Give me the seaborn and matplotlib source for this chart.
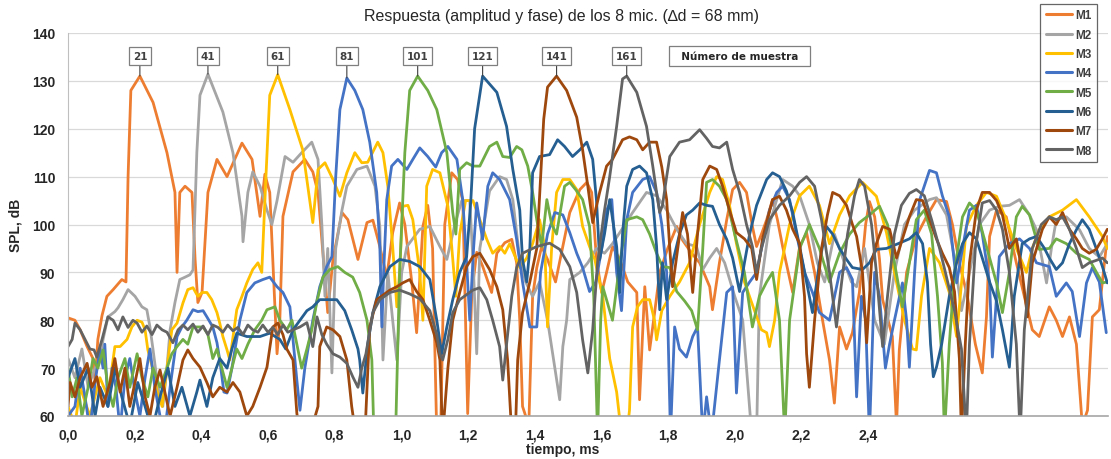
import matplotlib
matplotlib.use('Agg')
import matplotlib.pyplot as plt
import pandas as pd
import seaborn as sns

# series names, colours (Excel palette) and sample-number labels
mics = ['M1', 'M2', 'M3', 'M4', 'M5', 'M6', 'M7', 'M8']
colors = ['#ED7D31', '#A5A5A5', '#FFC000', '#4472C4',
          '#70AD47', '#255E91', '#9E480E', '#636363']
sample_labels = ['21', '41', '61', '81', '101', '121', '141', '161']
x_ticks = [0.0, 0.2, 0.4, 0.6, 0.8, 1.0, 1.2, 1.4, 1.6, 1.8, 2.0, 2.2, 2.4, 2.6, 2.8, 3.0]
x_ticklabels = ['0,0', '0,2', '0,4', '0,6', '0,8', '1,0', '1,2', '1,4', '1,6',
                '1,8', '2,0', '2,2', '2,4', '', '', '']
y_ticks = [60, 70, 80, 90, 100, 110, 120, 130, 140]
fs = 96.0  # samples per ms (96 kHz)

# values: position in samples, SPL in dB
n_m1 = [0.0, 2.0, 3.5, 5.5, 7.2, 7.8, 8.6, 9.8, 11.2, 13.0, 15.5, 16.7, 17.3, 18.1,
        20.7, 24.5, 28.5, 30.8, 31.4, 32.2, 33.7, 35.7, 36.6, 37.4, 38.6, 40.3, 42.9, 45.8,
        50.1, 53.0, 55.3, 56.7, 58.1, 60.2, 61.0, 61.9, 64.8, 68.2, 70.5, 72.0, 74.8, 76.3,
        78.9, 80.6, 83.5, 86.1, 87.8, 89.8, 91.8, 93.5, 95.5, 97.0, 99.0, 100.4, 102.2, 103.6,
        105.0, 106.2, 107.3, 108.5, 110.5, 112.2, 113.7, 115.1, 116.3, 117.7, 119.4, 122.0, 123.5, 125.8,
        127.8, 129.2, 130.1, 130.9, 132.7, 133.8, 135.0, 136.4, 138.1, 140.4, 142.5, 144.5, 147.4, 149.4,
        150.8, 152.2, 153.7, 155.1, 156.8, 158.9, 161.2, 163.8, 164.6, 166.1, 167.5, 168.9, 170.4, 172.7,
        175.3, 177.0, 179.6, 181.9, 184.8, 185.6, 187.6, 189.7, 191.4, 193.4, 195.4, 197.1, 198.3, 199.7,
        201.2, 202.9, 204.3, 205.8, 208.7, 210.7, 212.7, 215.0, 217.3, 219.3, 220.7, 222.2, 224.2, 225.9,
        227.9, 229.7, 230.8, 232.3, 233.7, 234.6, 237.4, 238.6, 239.4, 241.5, 244.3, 247.2, 250.1, 253.0,
        254.7, 256.7, 259.0, 261.3, 263.3, 264.5, 265.4, 267.4, 270.2, 273.1, 275.4, 277.7, 279.7, 282.6,
        284.6, 286.4, 288.4, 290.4, 292.1, 293.6, 295.0, 297.0, 299.3]
spl_m1 = [80.5, 80, 78, 74.5, 72, 67, 76, 81, 85, 86.4, 88.5, 88, 110, 128,
          131, 125.5, 115, 106.7, 90, 106.7, 108, 106.7, 92.7, 83.7, 85.8, 106.7, 113.6, 110,
          117, 113.6, 101.7, 110.5, 106.7, 73, 80, 101.7, 111, 113.6, 111, 106.7, 81.6, 92.7,
          102.5, 101, 92.7, 100.4, 100.9, 95.4, 89, 98.3, 104.5, 100, 88, 77.4, 99.6, 104,
          95, 56, 56, 100, 110.8, 109.4, 105, 60.5, 85.8, 94.2, 91.3, 85.8, 94, 96.2,
          96.9, 92, 80, 62, 58, 85, 91, 95.4, 92.7, 88, 95.4, 102.5, 107.3, 108.8,
          106.7, 92.7, 85.8, 90, 95.4, 92.7, 88, 85.8, 63.4, 87, 73.8, 81.4, 90, 95,
          99.6, 96.7, 94, 92, 87, 82.2, 92, 101, 107.3, 108.8, 106.7, 99.6, 95.4, 98,
          101, 105.2, 101, 95.4, 85.8, 95.4, 98.3, 90, 80, 71.7, 62.7, 78.6, 74, 77.4,
          85.8, 100, 104.8, 101.6, 92.7, 84.3, 76.6, 58, 73.8, 90, 97.5, 101.6, 105.2, 104.8,
          100, 92, 85, 75, 69, 80.7, 97.5, 103, 101.6, 92, 85, 78, 76.6, 82.8,
          80, 76.6, 80.7, 75, 58, 61.2, 80.7, 82.2, 97.5]

n_m2 = [0.0, 2.0, 4.0, 5.8, 7.8, 9.2, 10.1, 11.5, 13.5, 14.4, 15.8, 17.3, 19.3, 21.3,
        22.7, 23.6, 24.5, 25.9, 27.3, 28.5, 29.4, 30.8, 32.2, 33.7, 35.1, 36.0, 37.1, 38.0,
        40.3, 44.6, 47.5, 50.1, 50.4, 51.8, 53.2, 55.3, 57.3, 58.7, 60.2, 62.5, 64.8, 67.3,
        70.2, 72.0, 73.1, 74.0, 74.8, 76.0, 77.1, 78.9, 80.3, 83.2, 86.1, 88.4, 89.8, 90.7,
        92.1, 93.5, 94.7, 96.1, 97.6, 101.3, 104.2, 107.1, 109.1, 111.4, 113.4, 115.7, 116.8, 117.7,
        118.6, 121.4, 124.3, 126.3, 128.1, 130.1, 131.8, 133.8, 135.8, 138.1, 140.2, 141.6, 142.5, 143.6,
        144.5, 147.4, 149.7, 152.2, 154.5, 156.8, 158.9, 162.6, 166.6, 169.5, 172.4, 175.3, 178.1, 181.0,
        182.8, 184.8, 186.8, 189.1, 192.0, 194.3, 195.4, 196.9, 198.3, 199.1, 202.0, 205.8, 208.7, 210.7,
        213.5, 215.8, 217.9, 220.7, 223.6, 225.6, 227.1, 229.4, 232.3, 235.1, 238.0, 240.9, 243.8, 248.1,
        250.1, 253.0, 255.3, 257.3, 259.6, 262.5, 265.4, 268.2, 271.1, 274.0, 276.9, 278.9, 281.8, 283.2,
        284.6, 287.5, 291.3, 294.1, 297.0, 299.3]
spl_m2 = [72, 68, 74, 66, 70, 72, 76, 80.7, 81.8, 82.6, 84.3, 86.4, 85, 82.8,
          82.2, 78.6, 73.8, 66, 62, 70, 78, 83.7, 88.5, 89, 89.5, 90.5, 115, 127,
          131.4, 123.5, 115, 101.7, 96.4, 106.7, 111, 108, 103, 100, 105, 114.2, 113, 115,
          117.2, 113.6, 100, 85, 95, 69, 95, 103, 108, 111.5, 112.2, 108, 99.6, 71.7,
          90, 80, 71.7, 90, 95.4, 99, 99.6, 95.4, 92.7, 100, 105, 105, 90, 73,
          95, 107, 110, 109.4, 105.2, 92.7, 88, 85, 88, 80, 70, 63.4, 74.5, 80,
          88.5, 90, 92, 95, 94, 96, 98.3, 102.5, 106.7, 106, 103, 99, 96, 95.4,
          90.6, 93, 95, 92, 85, 80, 70, 56, 56, 85, 100, 109.4, 108, 106,
          100, 92, 88, 98, 92, 88, 87, 95, 80, 75, 90, 100, 103, 105.2,
          105.6, 102, 93, 82, 90, 100, 103, 103.8, 104, 105.2, 102, 98.9, 87.8, 95,
          101, 101.6, 98.9, 95, 93.2, 96]

n_m3 = [0.0, 2.0, 3.5, 6.3, 9.2, 11.5, 13.0, 13.5, 15.0, 17.0, 18.4, 19.9, 21.3, 22.2,
        23.0, 24.5, 25.6, 27.1, 28.5, 29.9, 31.4, 33.1, 34.5, 36.0, 37.4, 38.6, 40.0, 41.4,
        42.9, 43.7, 44.6, 45.8, 46.6, 48.6, 50.1, 51.5, 53.2, 54.7, 55.8, 57.0, 58.1, 60.4,
        63.9, 67.6, 69.6, 70.5, 72.0, 74.0, 76.3, 78.3, 80.3, 82.6, 84.6, 86.3, 89.2, 90.7,
        92.1, 93.5, 94.7, 95.5, 96.4, 97.9, 99.3, 101.3, 102.2, 103.3, 105.0, 107.1, 109.4, 110.5,
        111.7, 112.8, 114.5, 116.6, 118.6, 120.6, 122.3, 124.3, 125.8, 127.2, 130.1, 132.1, 133.8, 135.8,
        137.3, 138.1, 139.3, 140.7, 142.5, 144.5, 146.5, 148.2, 150.2, 151.7, 154.0, 156.0, 158.0, 159.4,
        160.9, 161.7, 162.6, 164.0, 165.5, 167.5, 168.9, 169.5, 171.0, 173.3, 176.1, 179.0, 181.9, 184.8,
        186.8, 188.5, 190.5, 192.5, 194.8, 197.7, 199.7, 201.2, 202.0, 203.5, 204.9, 207.8, 210.7, 213.5,
        216.4, 219.3, 222.2, 225.1, 228.8, 232.8, 235.7, 238.0, 240.9, 243.2, 244.3, 245.8, 248.1, 251.0,
        253.8, 255.9, 257.6, 258.7, 261.6, 264.5, 267.4, 270.2, 273.1, 276.0, 277.7, 279.7, 282.6, 286.4,
        290.4, 294.1, 297.9, 299.3]
spl_m3 = [62, 58, 66, 60, 68, 64, 72, 74.5, 74.5, 76, 78.6, 80, 79.6, 78,
          73.8, 69.6, 65.4, 62, 70, 78, 79.4, 83.6, 86.4, 86.8, 85, 85.8, 85.8, 84.3,
          81.6, 79.4, 76.6, 73.8, 71.7, 82.2, 85, 87.8, 90.6, 92, 90, 110, 127, 131.3,
          124, 115.6, 105.2, 100.4, 111.5, 112.9, 109.4, 105.9, 110.8, 115, 112.9, 113, 117.2, 115,
          108, 95.4, 82.8, 90, 103.8, 104, 101, 90, 80, 108, 111.5, 110.8, 103.8, 95.4,
          85, 98, 105, 105, 101, 96.9, 94, 95.4, 94, 96, 91, 93, 96, 101,
          95.4, 78.6, 95.4, 106.7, 109.4, 109.4, 107.3, 99.6, 95.4, 92.7, 85, 72, 65, 56,
          56, 61.2, 78.6, 82.8, 84.3, 84.3, 80, 75.9, 82, 85, 88, 92, 100, 106.7,
          110, 109.4, 104, 96, 88, 82, 78, 77.4, 74.5, 80, 90, 100, 106, 108,
          104, 96, 102, 106, 108.8, 105.9, 98.3, 90, 80, 74, 73.8, 85, 95, 92,
          85.8, 76.6, 90, 99.6, 104, 106.7, 105.9, 101, 95, 90, 95, 98.9, 101.6, 103,
          105.2, 101.6, 97.5, 95]

n_m4 = [0.0, 2.0, 3.5, 4.9, 6.3, 7.8, 9.2, 10.1, 10.6, 11.5, 12.7, 13.8, 15.0, 16.4,
        17.8, 19.3, 20.7, 22.2, 23.6, 25.0, 26.5, 27.9, 29.4, 31.4, 32.8, 34.2, 36.0, 37.4,
        38.9, 40.0, 41.7, 42.9, 43.7, 44.9, 45.8, 47.2, 49.5, 51.5, 53.8, 56.1, 58.1, 60.2,
        61.9, 63.9, 65.9, 66.8, 68.2, 70.5, 72.5, 74.5, 76.0, 77.1, 78.3, 80.3, 82.6, 84.9,
        86.9, 88.9, 89.8, 90.4, 90.9, 91.8, 93.2, 95.0, 97.6, 99.3, 101.3, 103.6, 105.9, 107.6,
        109.4, 112.0, 113.7, 114.8, 115.7, 116.8, 117.7, 119.4, 120.9, 122.3, 124.3, 127.2, 129.2, 130.9,
        133.0, 135.0, 136.1, 138.1, 140.2, 142.5, 144.5, 146.5, 148.2, 150.2, 152.0, 153.7, 155.1, 156.6,
        158.0, 159.4, 160.9, 162.6, 165.5, 167.5, 169.5, 171.0, 172.4, 173.5, 174.7, 176.1, 178.1, 179.9,
        181.3, 182.8, 183.9, 185.3, 187.6, 189.7, 191.4, 192.5, 194.3, 196.3, 198.3, 200.0, 202.0, 204.1,
        205.8, 207.8, 209.8, 212.1, 214.4, 216.4, 219.3, 222.2, 224.2, 225.9, 227.1, 228.5, 229.7, 230.8,
        232.3, 233.7, 235.4, 236.6, 238.0, 240.3, 241.5, 242.3, 243.8, 245.2, 248.1, 250.1, 251.8, 253.8,
        255.9, 257.6, 259.6, 261.6, 263.3, 265.4, 266.2, 268.2, 271.1, 274.0, 276.9, 278.9, 282.6, 284.6,
        287.5, 289.2, 291.3, 293.3, 295.0, 297.0, 299.0]
spl_m4 = [60, 62, 70, 64, 57, 67, 74, 70, 75, 62, 70, 66, 57, 68,
          72, 65, 60, 68, 74, 66, 60, 57, 66, 76.6, 78.6, 80, 82.2, 81.8,
          82, 80.7, 78.6, 75.3, 71.7, 65, 64.8, 70, 80, 85.8, 87.8, 88.5, 89, 87,
          85.8, 82.8, 67.5, 61.2, 70, 80, 87, 91.2, 93.3, 110, 124, 130.6, 128, 124,
          117.2, 106.7, 95.4, 78.6, 90, 105.2, 112.2, 113.6, 111.5, 113.6, 116, 114.2, 112, 115,
          116.3, 113.6, 105, 92, 80, 95, 104.5, 96.9, 108, 110.8, 109.4, 105.2, 96.9, 88,
          78.6, 78.6, 90, 98, 102.5, 102, 98.3, 94, 91, 86, 88, 95, 103, 105.2,
          90, 82, 101, 106.7, 109.4, 110, 106.7, 100, 90, 56, 78.6, 74, 72.3, 76.6,
          78.6, 56, 64, 56, 71.7, 85.8, 87, 64.8, 85.8, 88, 90, 96, 103, 106.7,
          108, 105.2, 98, 90, 85.8, 81.6, 80, 90, 91, 88.5, 64, 85, 80, 56,
          90, 85, 70, 75, 80, 87.8, 80, 70.2, 90, 105, 111.3, 110.8, 106, 101.6,
          87.8, 95, 103, 104, 98, 87.8, 72.3, 93.3, 96, 97, 95, 92, 91.2, 85,
          87.8, 86, 76.6, 87.8, 91, 88, 77.4]

n_m5 = [0.0, 1.2, 2.6, 4.0, 5.8, 7.2, 8.6, 10.1, 11.5, 13.0, 14.4, 16.4, 17.8, 19.9,
        21.3, 23.0, 24.5, 26.5, 28.5, 29.9, 31.4, 33.1, 34.5, 36.0, 38.9, 40.3, 41.7, 42.9,
        44.3, 45.8, 47.2, 48.6, 50.1, 51.8, 53.8, 55.8, 57.3, 59.6, 61.0, 63.0, 64.5, 65.9,
        67.3, 68.8, 70.2, 71.7, 73.4, 75.4, 77.7, 79.7, 82.0, 84.0, 86.1, 87.5, 88.1, 91.2,
        94.4, 95.5, 97.0, 98.4, 100.7, 103.6, 106.2, 109.1, 110.8, 111.7, 112.8, 114.8, 116.6, 118.6,
        121.4, 123.5, 125.2, 127.2, 129.2, 130.7, 132.4, 133.8, 135.0, 136.4, 137.9, 139.3, 140.7, 143.0,
        144.5, 146.5, 148.2, 150.2, 151.4, 152.5, 153.4, 154.0, 156.0, 156.8, 158.9, 160.9, 163.8, 165.5,
        167.5, 169.5, 171.2, 173.3, 175.3, 177.6, 179.6, 181.3, 182.8, 183.9, 185.6, 187.6, 189.7, 192.0,
        194.8, 197.1, 199.1, 201.2, 202.9, 204.9, 206.4, 207.8, 210.7, 213.5, 216.4, 219.3, 222.2, 225.1,
        227.9, 230.8, 233.7, 236.0, 238.0, 240.3, 242.3, 244.3, 246.6, 248.7, 250.4, 251.8, 252.4, 253.8,
        255.3, 257.6, 259.6, 261.6, 263.9, 267.4, 269.1, 271.1, 273.1, 274.8, 276.9, 279.7, 282.6, 284.6,
        287.5, 290.4, 294.1, 297.9, 299.3]
spl_m5 = [70, 64, 68, 60, 66, 72, 70, 73.8, 66, 62, 68, 72, 66, 73,
          68, 64, 70, 66, 70, 73, 74.5, 76, 75, 78.6, 78.6, 77, 72, 74,
          70, 66, 70, 74, 72, 75, 78, 80, 82.2, 82.8, 80, 78, 80, 75,
          70, 74, 78, 84, 89, 90.6, 91.2, 90, 89, 85.8, 80, 71.7, 56, 56,
          58, 90, 115, 128, 131, 128, 124, 115, 102.5, 98, 111.5, 112.9, 112.2, 112.2,
          116.3, 117.2, 114.2, 114, 116.3, 115.6, 112.2, 106.7, 101, 95.4, 105.2, 100, 98, 108,
          108.8, 107, 105.2, 99.6, 85, 56, 80, 87, 82, 80, 92, 101, 101.6, 101,
          98, 94, 91.2, 91, 86, 84, 82, 78, 95, 108.8, 109.4, 108, 105.2, 98,
          90, 78.6, 85, 88, 90, 80, 56, 80, 95, 100, 95, 88, 94, 98,
          100.4, 102, 103.8, 100, 92, 82.8, 92, 101, 103, 98, 85, 71.1, 56, 75,
          90, 101.6, 104.5, 103, 97, 87.8, 81.6, 90, 101.6, 103.8, 102, 94.8, 95, 97,
          96, 94, 92.7, 87.8, 88]

n_m6 = [0.0, 2.0, 3.5, 5.8, 7.8, 9.2, 11.5, 13.5, 15.5, 17.8, 20.1, 22.2, 24.2, 26.5,
        28.8, 30.8, 32.8, 35.1, 37.1, 38.0, 40.0, 41.7, 43.7, 45.8, 47.2, 48.6, 51.5, 55.3,
        58.1, 61.0, 62.7, 64.8, 66.8, 68.8, 70.5, 72.5, 74.5, 77.4, 79.7, 81.7, 83.5, 84.0,
        84.9, 86.3, 87.8, 89.8, 92.7, 95.5, 98.4, 101.3, 104.2, 106.2, 107.6, 109.1, 110.8, 112.8,
        114.8, 116.0, 117.1, 119.4, 123.5, 126.3, 128.1, 130.1, 130.9, 132.1, 133.0, 133.8, 135.8, 138.7,
        141.0, 143.0, 145.3, 147.4, 149.4, 151.1, 152.2, 153.1, 154.5, 156.0, 158.0, 158.9, 159.7, 160.9,
        162.6, 164.6, 166.6, 168.4, 169.5, 170.4, 171.2, 172.4, 174.1, 176.1, 178.1, 179.9, 181.9, 183.9,
        185.6, 187.6, 189.7, 191.4, 193.4, 194.8, 196.3, 198.3, 201.2, 202.9, 204.9, 206.9, 208.7, 210.7,
        212.7, 214.4, 216.4, 218.4, 220.2, 222.2, 224.2, 225.9, 228.8, 230.8, 232.8, 235.7, 239.4, 242.3,
        244.3, 246.1, 247.5, 248.4, 249.2, 250.1, 251.6, 253.8, 255.9, 257.6, 259.6, 261.6, 263.3, 265.4,
        267.4, 269.1, 271.1, 272.5, 274.8, 276.9, 278.9, 281.2, 282.6, 284.6, 286.4, 288.4, 290.4, 292.1,
        294.1, 296.1, 297.9, 299.3]
spl_m6 = [68, 72, 66, 70, 60, 66, 62, 70, 64, 58, 67, 62, 57, 64,
          70, 62, 66, 60, 65, 67.5, 62, 68, 72, 70, 74, 77.3, 76.6, 76.6,
          77.3, 76, 74, 78, 80, 82, 82.8, 84.3, 84.3, 84.3, 82, 78, 74, 71.7,
          64.8, 75, 81.6, 87, 91.2, 92.7, 92.3, 91.2, 88.5, 80, 73, 78.6, 84.3, 90,
          93.3, 105, 120, 131, 127.6, 120.5, 111.5, 103, 92.7, 88, 95, 110.8, 114.2, 114.6,
          117.7, 116.3, 114.2, 115.6, 117.2, 113.6, 105, 92.7, 98, 105.2, 95.4, 85.8, 98, 108,
          111.5, 112.2, 110.8, 105.2, 95.4, 82.2, 92, 84.3, 92, 98, 102, 103, 104.5, 104,
          103.8, 100, 96.9, 93, 86, 92, 98, 104, 109.4, 110.8, 110, 107, 102.5, 95.4,
          88, 81.6, 92, 99.6, 98, 95, 92.7, 91, 90.6, 92, 94.8, 95, 96.1, 97,
          98.3, 96, 88, 75, 68.2, 70.2, 75, 85, 92, 96, 98.3, 97, 93, 88,
          84, 78, 70.2, 85, 96, 97, 97.5, 95, 93, 90.6, 92, 96, 98.9, 101,
          99, 95, 91.2, 87.8]

n_m7 = [0.0, 0.6, 2.0, 3.5, 5.5, 6.9, 8.3, 10.1, 12.1, 13.5, 15.0, 16.4, 17.8, 19.3,
        20.7, 22.2, 23.6, 25.0, 26.5, 27.9, 29.4, 31.4, 33.1, 34.5, 36.0, 38.0, 40.0, 41.7,
        43.7, 45.8, 47.5, 49.5, 51.5, 53.2, 55.3, 57.3, 59.0, 60.4, 61.9, 63.0, 64.8, 65.9,
        66.8, 69.6, 72.0, 72.5, 74.5, 76.3, 78.3, 80.3, 81.7, 82.9, 85.5, 86.9, 88.9, 92.7,
        94.7, 96.4, 98.4, 100.4, 102.2, 104.2, 106.2, 107.1, 107.9, 109.4, 110.8, 112.8, 114.8, 116.6,
        118.6, 121.4, 123.5, 125.2, 126.6, 127.8, 128.9, 129.5, 130.9, 133.0, 135.0, 136.1, 137.0, 138.1,
        140.7, 143.6, 146.5, 148.2, 149.7, 151.1, 153.1, 155.1, 156.8, 159.7, 161.7, 163.8, 165.5, 167.5,
        169.5, 171.0, 172.4, 173.3, 174.1, 175.6, 177.0, 178.4, 179.9, 181.3, 182.8, 184.8, 186.8, 188.5,
        190.5, 192.5, 194.8, 196.9, 198.3, 200.0, 202.9, 204.9, 206.9, 208.7, 210.7, 212.1, 212.7, 213.5,
        215.0, 217.0, 218.7, 220.2, 222.2, 224.2, 225.9, 227.1, 228.8, 230.0, 231.4, 232.8, 234.6, 236.6,
        238.6, 240.3, 242.3, 244.3, 246.1, 248.1, 250.1, 251.8, 253.8, 255.3, 256.7, 257.3, 258.4, 259.6,
        261.6, 263.3, 265.4, 267.4, 269.1, 271.1, 273.1, 274.8, 276.3, 277.7, 280.6, 282.6, 284.6, 286.4,
        288.4, 290.4, 292.1, 294.1, 296.1, 297.9, 299.3]
spl_m7 = [62, 67, 64, 68, 71, 66, 68.2, 62, 67, 72, 65, 70, 62, 67,
          72, 64, 60, 66, 69.6, 65, 60, 66, 71.7, 73.8, 72, 70.2, 67, 64,
          66, 65, 67, 65, 60, 62, 66, 70.2, 78.6, 79.4, 77, 74, 71.7, 60.6,
          56, 56, 62, 74.5, 78.6, 78, 76.6, 71.7, 62, 56, 56, 78.6, 84.3, 86.3,
          87, 87.8, 88.5, 86, 84.3, 80, 75.3, 71.7, 56, 70, 80, 85.8, 91.2, 93.3,
          94, 90.6, 87, 82.2, 71.7, 56, 58, 71.7, 81.6, 88, 95, 110, 122, 128.7,
          131, 128, 122.4, 115.6, 108, 100.4, 106.7, 112.2, 113.6, 117.7, 118.3, 117.7, 115.6, 117.2,
          117.2, 112, 105.2, 95, 87, 95, 102.5, 98, 85.8, 98, 109.4, 112.2, 111.5, 108,
          103, 98.3, 97, 95, 88.5, 97, 105.2, 105.9, 103, 99, 96, 85, 73, 66,
          80, 95, 102, 106.7, 106, 104, 100, 97.5, 90, 75.3, 92, 96, 99.6, 99,
          93, 97, 101.6, 105.2, 105, 101, 97, 94, 91, 86, 72, 56, 75, 92,
          103, 106.7, 106.7, 105, 102, 95, 97, 90, 80.7, 92, 99, 101.6, 100, 102.5,
          99, 97, 95, 94, 94.8, 97, 99]

n_m8 = [0.0, 1.2, 2.0, 3.5, 4.9, 6.3, 7.5, 8.3, 9.8, 11.5, 13.0, 14.4, 15.8, 17.3,
        18.7, 19.9, 21.3, 22.7, 24.2, 25.6, 27.1, 28.5, 30.2, 31.7, 33.1, 34.5, 36.0, 37.4,
        38.9, 40.3, 41.7, 43.2, 44.6, 46.0, 47.5, 48.9, 50.4, 51.8, 53.2, 54.7, 56.1, 57.6,
        59.0, 60.4, 61.9, 63.3, 64.8, 66.8, 68.8, 70.5, 71.7, 73.1, 74.5, 76.3, 78.3, 80.3,
        82.0, 83.5, 84.6, 85.8, 87.8, 89.8, 92.7, 95.5, 98.4, 101.3, 104.2, 106.2, 107.1, 107.9,
        109.4, 110.8, 112.8, 116.6, 118.6, 120.6, 122.3, 124.3, 125.2, 126.3, 127.8, 129.2, 130.9, 135.0,
        138.7, 141.6, 144.5, 146.5, 148.2, 149.7, 151.1, 152.5, 154.3, 156.0, 158.0, 159.7, 160.9, 163.8,
        166.6, 168.4, 169.5, 170.4, 171.2, 172.4, 173.3, 176.1, 179.0, 181.9, 183.9, 185.6, 187.6, 189.7,
        191.4, 193.4, 195.4, 197.1, 198.3, 199.7, 202.0, 204.9, 207.8, 210.7, 212.7, 215.0, 217.0, 219.3,
        221.3, 222.8, 224.5, 226.5, 227.9, 229.4, 231.4, 232.8, 234.6, 236.0, 238.0, 240.0, 242.3, 244.3,
        246.6, 248.7, 251.0, 253.0, 255.3, 257.3, 258.7, 259.6, 261.3, 263.3, 265.4, 267.4, 269.1, 271.1,
        273.1, 274.2, 275.4, 277.7, 280.3, 282.6, 284.6, 286.4, 288.4, 290.4, 292.1, 294.1, 296.1, 297.9,
        299.3]
spl_m8 = [74.5, 76, 79.4, 78, 76, 74, 73.8, 72.3, 76, 80.7, 80, 78, 80.7, 78.5,
          80, 79.4, 77.5, 78.8, 77, 79, 78, 77.5, 75.3, 78, 79, 78, 79.2, 77.5,
          78.8, 77, 79, 78.5, 77.5, 79, 77.8, 78.5, 77, 79, 78, 77.5, 79, 77.5,
          78.5, 77, 79, 77.5, 78, 78.6, 79.5, 74.5, 80.7, 77, 75, 73, 72.3, 71,
          68.2, 66, 70, 73, 81.6, 84.3, 85.8, 86.3, 85.5, 84.5, 82, 77, 73, 71.7,
          76, 81.6, 84.3, 86.3, 86.8, 84.3, 80, 74.5, 67.5, 75, 85, 91, 94, 95.4,
          96.1, 94.8, 91.2, 85.8, 75.9, 69, 78, 92, 102, 110, 120.5, 130.4, 131, 127.6,
          120.5, 112.2, 106.7, 102.5, 104, 110, 114.2, 117.2, 117.7, 119.8, 118, 116.3, 116, 117.2,
          111.5, 106.7, 100, 95.4, 90, 95, 101, 104, 106, 108.8, 110, 108, 101, 90,
          78.6, 88, 98, 106, 109.4, 108, 100, 90, 74.5, 85, 98, 104, 106.5, 107.3,
          106, 101, 95, 89, 82, 74, 56, 75, 95, 104.5, 105, 103, 99, 90,
          75, 56, 78, 95, 100, 101.6, 101, 101.6, 99, 95, 91, 92, 92.5, 93,
          92]

# long table for seaborn (time in ms = sample / fs)
all_n = [n_m1, n_m2, n_m3, n_m4, n_m5, n_m6, n_m7, n_m8]
all_spl = [spl_m1, spl_m2, spl_m3, spl_m4, spl_m5, spl_m6, spl_m7, spl_m8]
frames = []
for mic, n, spl in zip(mics, all_n, all_spl):
    d = pd.DataFrame({'muestra': n, 'spl': spl, 'mic': mic})
    d['tiempo'] = d['muestra'] / fs
    frames.append(d)
df = pd.concat(frames, ignore_index=True)

sns.set_style('white')
plt.rcParams['font.family'] = ['Liberation Sans', 'DejaVu Sans']

W, H = 1111, 460
fig = plt.figure(figsize=(W / 100, H / 100), dpi=100)
ax = fig.add_axes([68 / W, 43 / H, 1040 / W, 383 / H])

sns.lineplot(data=df, x='tiempo', y='spl', hue='mic', hue_order=mics,
             palette=colors, estimator=None, sort=False, linewidth=2.0, ax=ax)

ax.set_xlim(0, 299.5 / fs)
ax.set_ylim(60, 140)
ax.set_xticks(x_ticks)
ax.set_xticklabels(x_ticklabels)
ax.set_yticks(y_ticks)
ax.set_xlabel('')
ax.set_ylabel('')
ax.yaxis.grid(True, color='#D9D9D9', linewidth=0.9)
ax.xaxis.grid(False)
ax.set_axisbelow(True)
for side in ['top', 'right']:
    ax.spines[side].set_visible(False)
ax.spines['left'].set_color('#BFBFBF')
ax.spines['bottom'].set_color('#A6A6A6')
ax.spines['bottom'].set_linewidth(1.2)
ax.tick_params(axis='x', direction='out', length=4, width=1, color='#A6A6A6',
               labelsize=10, labelcolor='#262626', pad=4)
ax.tick_params(axis='y', direction='out', length=4, width=1, color='#BFBFBF',
               labelsize=10, labelcolor='#262626', pad=5)
for lab in ax.get_xticklabels() + ax.get_yticklabels():
    lab.set_fontweight('bold')

# sample-number callouts on each main peak
for mic, lab in zip(mics, sample_labels):
    sub = df[df.mic == mic]
    i = sub.spl.idxmax()
    tp, yp = sub.tiempo[i], sub.spl[i]
    ax.annotate(lab, xy=(tp, yp), xytext=(tp, 135.2), ha='center', va='center',
                fontsize=7.5, fontweight='bold', color='#404040',
                family=['DejaVu Sans'],
                bbox=dict(boxstyle='square,pad=0.35', fc='white', ec='#7F7F7F', lw=0.9),
                arrowprops=dict(arrowstyle='-', color='#404040', lw=0.8,
                                shrinkA=0, shrinkB=0))

ax.text(2.015, 135.2, '  Número de muestra  ', ha='center', va='center',
        fontsize=7.5, fontweight='bold', color='#262626', family=['DejaVu Sans'],
        bbox=dict(boxstyle='square,pad=0.45', fc='white', ec='#7F7F7F', lw=0.9))

# legend in the top right corner, like the Excel chart
old = ax.get_legend()
handles = old.legend_handles
labels = [t.get_text() for t in old.get_texts()]
old.remove()
leg = fig.legend(handles, labels, loc='upper right',
                 bbox_to_anchor=(1097 / W, 1 - 5 / H), frameon=True, fancybox=False,
                 edgecolor='#404040', prop={'weight': 'bold', 'size': 8.5},
                 handlelength=2.2, handletextpad=0.3, labelspacing=0.62,
                 borderpad=0.45, borderaxespad=0)
leg.get_frame().set_linewidth(0.9)
for h in leg.legend_handles:
    h.set_linewidth(2.2)
for t in leg.get_texts():
    t.set_color('#404040')

fig.text(562 / W, 1 - 16 / H, 'Respuesta (amplitud y fase) de los 8 mic. (\u2206d = 68 mm)',
         ha='center', va='center', fontsize=11.5, color='#262626')
fig.text(15 / W, 1 - 225 / H, 'SPL, dB', rotation=90, ha='center', va='center',
         fontsize=10, fontweight='bold', color='#262626')
fig.text(563 / W, 1 - 450 / H, 'tiempo, ms', ha='center', va='center',
         fontsize=10, fontweight='bold', color='#262626')

fig.savefig('out.png', dpi=100)
